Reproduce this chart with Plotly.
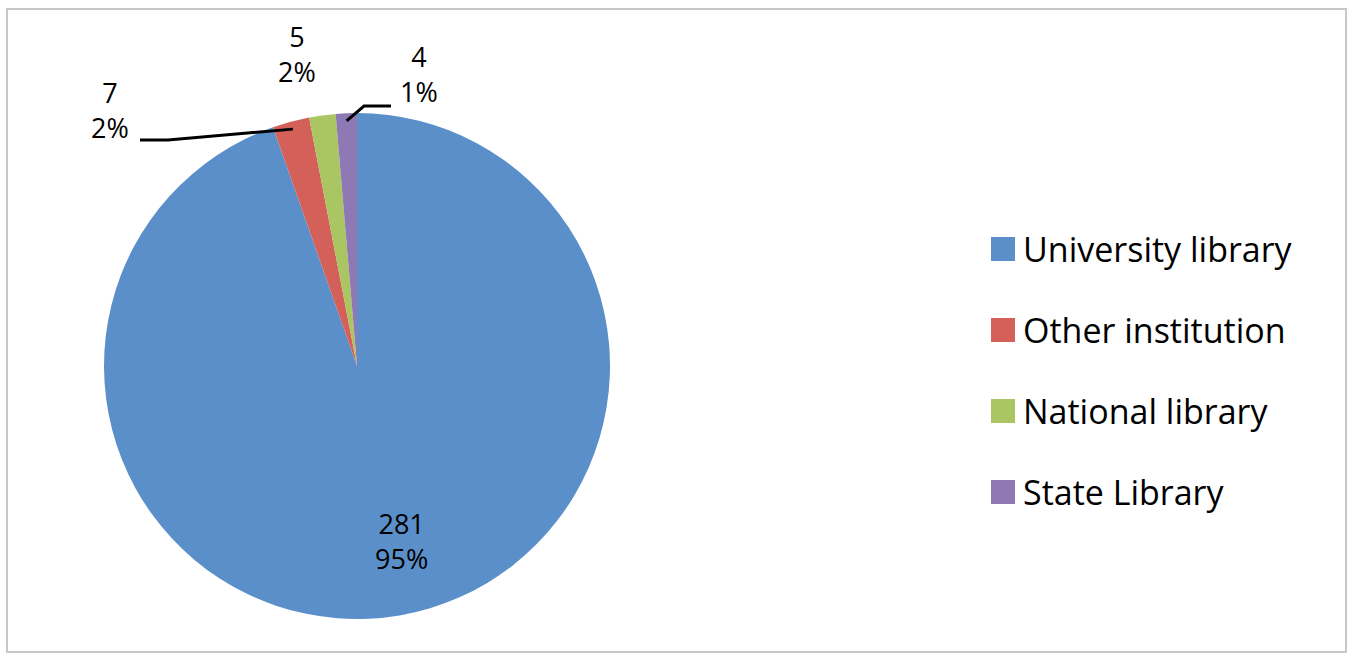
import math
import plotly.graph_objects as go

categories = ["University library", "Other institution", "National library", "State Library"]
values = [281, 7, 5, 4]
colors = ["#5B8FC9", "#D4605A", "#A9C663", "#8E79B5"]

W, H = 1353, 659
cx, cy, r = 357, 366, 253          # pie centre / radius in pixels
FONT = "Open Sans"
LABEL_SIZE = 27

total = sum(values)
pcts = [v / total for v in values]

fig = go.Figure(go.Pie(
    labels=categories,
    values=values,
    sort=False,
    direction="clockwise",
    rotation=0,
    marker=dict(colors=colors, line=dict(width=0)),
    textinfo="none",
    hoverinfo="label+value+percent",
    domain=dict(x=[(cx - r) / W, (cx + r) / W], y=[1 - (cy + r) / H, 1 - (cy - r) / H]),
))


def edge_point(i, frac=1.0):
    start = sum(values[:i]) / total * 2 * math.pi
    mid = start + values[i] / total * math.pi
    return cx + frac * r * math.sin(mid), cy - frac * r * math.cos(mid)


def px(x):
    return x / W


def py(y):
    return 1 - y / H


# label placement: big slice inside (along its mid-angle), small slices outside
ix, iy = edge_point(0, 0.70)
label_pos = {0: (ix + 15, iy), 1: (110, 110), 2: (297, 54), 3: (419, 74)}
leaders = {
    1: [(168, 140), (140, 140)],
    3: [(364, 106), (391, 106)],
}

annotations = []
shapes = []
for i, (lx, ly) in label_pos.items():
    annotations.append(dict(
        x=px(lx), y=py(ly), xref="paper", yref="paper", showarrow=False,
        text=f"{values[i]}<br>{round(pcts[i] * 100)}%",
        font=dict(family=FONT, size=LABEL_SIZE, color="#000000"),
        xanchor="center", yanchor="middle",
    ))
for i, pts in leaders.items():
    ex, ey = edge_point(i, 0.97)
    path = f"M{px(ex)},{py(ey)}" + "".join(f" L{px(x)},{py(y)}" for x, y in pts)
    shapes.append(dict(type="path", xref="paper", yref="paper", path=path,
                       line=dict(color="#000000", width=3)))

shapes.append(dict(type="rect", xref="paper", yref="paper",
                   x0=px(7), x1=px(1346), y0=py(652), y1=py(9),
                   line=dict(color="#C8C8C8", width=2), fillcolor="rgba(0,0,0,0)"))

fig.update_layout(
    width=W, height=H,
    margin=dict(l=0, r=0, t=0, b=0, autoexpand=False),
    paper_bgcolor="white",
    font=dict(family=FONT, color="#000000"),
    showlegend=True,
    legend=dict(
        x=px(983), y=py(225), xanchor="left", yanchor="top",
        font=dict(family=FONT, size=34, color="#000000"),
        itemwidth=30,
        bgcolor="rgba(0,0,0,0)",
    ),
    annotations=annotations,
    shapes=shapes,
)

# Enlarge the legend swatches and space legend entries like the original
LEGEND_FIRST_CENTER = 249
LEGEND_STEP = 81
post = """
document.body.style.margin = '0';
var gd = document.getElementById('{plot_id}');
gd.querySelectorAll('.legend .scrollbox').forEach(function(s){ s.removeAttribute('clip-path'); });
gd.querySelectorAll('.legendpoints path').forEach(function(p){
  p.setAttribute('transform', (p.getAttribute('transform') || '') + ' scale(2)');
});
var items = gd.querySelectorAll('.legend .traces');
items.forEach(function(g, i){
  var t = g.getAttribute('transform') || 'translate(0,0)';
  var m = /translate\\(\\s*([-\\d.e]+)[ ,]*([-\\d.e]*)\\s*\\)/.exec(t);
  var x = m ? parseFloat(m[1]) : 0;
  var y = (m && m[2] !== '') ? parseFloat(m[2]) : 0;
  var sym = g.querySelector('.legendpoints path');
  var rc = sym.getBoundingClientRect();
  var cur = rc.top + rc.height / 2;
  var want = FIRST + i * STEP;
  g.setAttribute('transform', 'translate(' + x + ',' + (y + want - cur) + ')');
});
""".replace("FIRST", str(LEGEND_FIRST_CENTER)).replace("STEP", str(LEGEND_STEP))

fig.write_html("out.html", post_script=post, config={"displayModeBar": False})
